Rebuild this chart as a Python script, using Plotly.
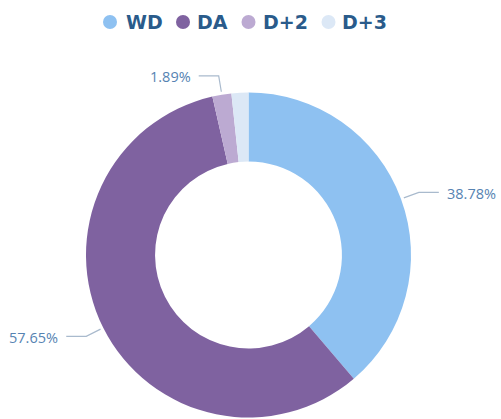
import math
import plotly.graph_objects as go

categories = ["WD", "DA", "D+2", "D+3"]
values = [38.78, 57.65, 1.89, 1.68]
show_label = [True, True, True, False]
colors = ["#8ec1f1", "#7f62a0", "#bcaad2", "#dce8f6"]

W, H = 501, 419
cx, cy, R = 248.5, 255, 162.5
hole = 0.575

# legend layout (pixel positions of legend swatches / text)
legend_marker_x = [110, 183, 248.5, 328.5]
legend_text_x = [124, 195, 261, 340]
legend_y = 22

fig = go.Figure()

# pie
fig.add_trace(go.Pie(
    labels=categories, values=values, hole=hole, sort=False,
    direction="clockwise", rotation=0,
    marker=dict(colors=colors, line=dict(width=0)),
    textinfo="none", hoverinfo="label+percent", showlegend=False,
    domain=dict(x=[(cx - R) / W, (cx + R) / W], y=[(H - cy - R) / H, (H - cy + R) / H]),
))

# legend swatches (circles)
fig.add_trace(go.Scatter(x=legend_marker_x, y=[legend_y] * len(categories), mode="markers",
                         marker=dict(color=colors, size=14, symbol="circle"),
                         text=categories, hoverinfo="text", showlegend=False))

annotations = []
for name, tx in zip(categories, legend_text_x):
    annotations.append(dict(x=tx, y=legend_y, xref="x", yref="y", text=f"<b>{name}</b>",
                            showarrow=False, xanchor="left", yanchor="middle",
                            font=dict(size=19, color="#2a5b8b", family="DejaVu Sans")))

# leader lines and labels computed from slice angles
total = sum(values)
cum = 0
for v, lab, show in zip(values, categories, show_label):
    mid = (cum + v / 2) / total * 2 * math.pi
    cum += v
    if not show:
        continue
    s, c = math.sin(mid), math.cos(mid)
    x0, y0 = cx + (R + 3) * s, cy - (R + 3) * c
    x1, y1 = cx + (R + 19) * s, cy - (R + 19) * c
    side = 1 if s >= 0 else -1
    x2 = x1 + side * 20
    fig.add_trace(go.Scatter(x=[x0, x1, x2], y=[y0, y1, y1], mode="lines",
                             line=dict(color="#a9bacd", width=1.2),
                             hoverinfo="skip", showlegend=False))
    pct = v / total * 100
    annotations.append(dict(x=x2 + side * 6, y=y1 + 1, xref="x", yref="y",
                            text=f"{pct:.2f}%", showarrow=False,
                            xanchor="left" if side > 0 else "right", yanchor="middle",
                            font=dict(size=14.5, color="#5683b2", family="Open Sans")))

fig.update_layout(
    width=W, height=H,
    margin=dict(l=0, r=0, t=0, b=0),
    paper_bgcolor="white", plot_bgcolor="rgba(0,0,0,0)",
    xaxis=dict(range=[0, W], visible=False, fixedrange=True),
    yaxis=dict(range=[H, 0], visible=False, fixedrange=True),
    annotations=annotations,
    showlegend=False,
)

fig.write_html("out.html", config={"displayModeBar": False},
               post_script="document.body.style.margin='0px';")
